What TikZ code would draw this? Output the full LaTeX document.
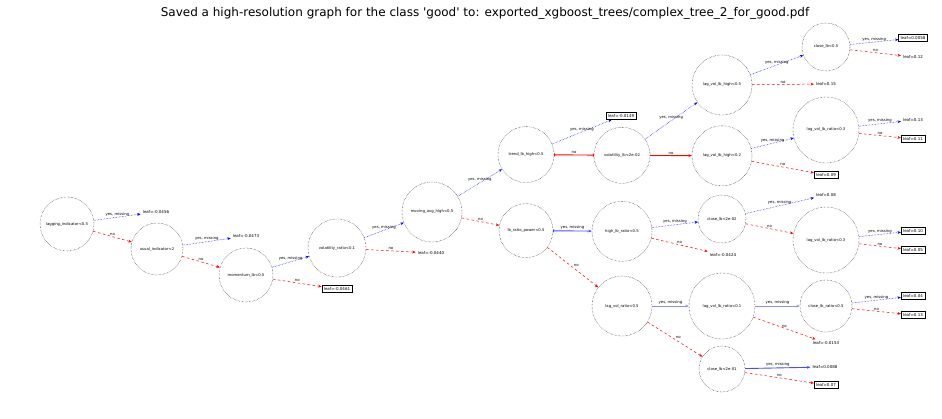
\documentclass[tikz,border=0pt]{standalone}
\usepackage{fontspec}
\newfontfamily\titlefont{DejaVu Sans}
\newfontfamily\treefont{DejaVu Sans}
\usetikzlibrary{arrows.meta}

\begin{document}
\begin{tikzpicture}[x=1pt,y=-1pt,
  split/.style={circle, draw, densely dotted, line width=0.4pt, inner sep=0pt, font=\treefont\fontsize{3.8}{4.5}\selectfont},
  leaf/.style={draw, line width=0.5pt, inner sep=2pt, font=\treefont\fontsize{4}{5}\selectfont},
  leafplain/.style={inner sep=2pt, font=\treefont\fontsize{4}{5}\selectfont},
  yes/.style={-{Stealth[length=3.4pt,width=2.8pt]}, blue, densely dotted, line width=0.5pt},
  no/.style={-{Stealth[length=3.4pt,width=2.8pt]}, red, dash pattern=on 2.5pt off 2.5pt, line width=0.5pt},
  flatno/.style={solid, draw=red, line width=0.9pt},
  flatyes/.style={solid, draw=blue!70, line width=0.9pt},
  lbl/.style={font=\treefont\fontsize{3.8}{4.5}\selectfont, inner sep=0.8pt, text=black}]

\useasboundingbox (0,0) rectangle (942,418);

\node[font=\titlefont\fontsize{12}{14}\selectfont] (title) at (485,13)
  {Saved a high-resolution graph for the class 'good' to: exported\_xgboost\_trees/complex\_tree\_2\_for\_good.pdf};

% split nodes
\node[split, minimum size=54pt] (lag) at (67,224) {lagging\_indicator<0.5};
\node[split, minimum size=52pt] (trend) at (157,249) {usual\_indicator<2};
\node[split, minimum size=54pt] (mom) at (246,275) {momentum\_lb<0.5};
\node[split, minimum size=58pt] (vol) at (337,248) {volatility\_ratio<0.1};
\node[split, minimum size=60pt] (mavg) at (432,212) {moving\_avg\_high<0.5};
\node[split, minimum size=56pt] (tlag) at (526,154.6) {trend\_lb\_high<0.5};
\node[split, minimum size=54pt] (ratio) at (526,230.6) {lb\_ratio\_power<0.5};
\node[split, minimum size=56pt] (vlb) at (622,155.3) {volatility\_lb<2e-02};
\node[split, minimum size=60pt] (lvh) at (722,85) {lag\_vol\_lb\_high<0.5};
\node[split, minimum size=60pt] (lvl) at (722,155.8) {lag\_vol\_lb\_high<0.2};
\node[split, minimum size=60pt] (hlb) at (622,231.3) {high\_lb\_ratio<0.5};
\node[split, minimum size=48pt] (clb) at (722,219) {close\_lb<2e-02};
\node[split, minimum size=60pt] (lvr) at (622,306) {lag\_vol\_ratio<0.5};
\node[split, minimum size=66pt] (lvq) at (722,306) {lag\_vol\_lb\_ratio<0.1};
\node[split, minimum size=46pt] (cls) at (722,369) {close\_lb<2e-01};
\node[split, minimum size=48pt] (chl) at (826,47) {close\_lb<0.5};
\node[split, minimum size=66pt] (lvm) at (826,130) {lag\_vol\_lb\_ratio<0.3};
\node[split, minimum size=66pt] (lvn) at (826,240) {lag\_vol\_lb\_ratio<0.3};
\node[split, minimum size=52pt] (clr) at (826,306) {close\_lb\_ratio<0.5};

% leaves
\node[leafplain] (l1) at (156,212) {leaf=-0.0456};
\node[leafplain] (l2) at (246,236) {leaf=-0.0473};
\node[leaf] (l3) at (337,289) {leaf=-0.0461};
\node[leafplain] (l4) at (431,253) {leaf=-0.0440};
\node[leaf] (l5) at (621,116) {leaf=-0.0149};
\node[leaf] (l6) at (913,38) {leaf=0.0058};
\node[leafplain] (l7) at (913,57) {leaf=0.12};
\node[leafplain] (l8) at (826,84) {leaf=0.15};
\node[leafplain] (l9) at (913,120) {leaf=0.13};
\node[leaf] (l10) at (913,139) {leaf=0.11};
\node[leaf] (l11) at (826,175) {leaf=0.09};
\node[leafplain] (l12) at (826,195) {leaf=0.08};
\node[leafplain] (l13) at (723,255) {leaf=-0.0424};
\node[leaf] (l14) at (913,231) {leaf=0.10};
\node[leaf] (l15) at (913,250) {leaf=0.05};
\node[leaf] (l16) at (913,296) {leaf=0.04};
\node[leaf] (l17) at (913,315) {leaf=0.13};
\node[leafplain] (l18) at (826,343) {leaf=-0.0153};
\node[leafplain] (l19) at (825,367) {leaf=0.0088};
\node[leaf] (l20) at (826,385) {leaf=0.07};

% edges
\draw[yes] (lag) to node[lbl, above] {yes, missing} (l1);
\draw[no] (lag) to node[lbl, above] {no} (trend);
\draw[yes] (trend) to node[lbl, above] {yes, missing} (l2);
\draw[no] (trend) to node[lbl, above] {no} (mom);
\draw[yes] (mom) to node[lbl, above] {yes, missing} (vol);
\draw[no] (mom) to node[lbl, above] {no} (l3);
\draw[yes] (vol) to node[lbl, above] {yes, missing} (mavg);
\draw[no] (vol) to node[lbl, above] {no} (l4);
\draw[yes] (mavg) to node[lbl, above] {yes, missing} (tlag);
\draw[no] (mavg) to node[lbl, above] {no} (ratio);
\draw[yes] (tlag) to node[lbl, above] {yes, missing} (l5);
\draw[no, flatno, {Bar[width=3pt]}-{Bar[width=3pt]}] (tlag) to node[lbl, above] {no} (vlb);
\draw[yes] (vlb) to node[lbl, above] {yes, missing} (lvh);
\draw[no, flatno] (vlb) to node[lbl, above] {no} (lvl);
\draw[yes] (lvh) to node[lbl, above] {yes, missing} (chl);
\draw[no] (lvh) to node[lbl, above] {no} (l8);
\draw[yes] (chl) to node[lbl, above] {yes, missing} (l6);
\draw[no] (chl) to node[lbl, above] {no} (l7);
\draw[yes] (lvl) to node[lbl, above] {yes, missing} (lvm);
\draw[no] (lvl) to node[lbl, above] {no} (l11);
\draw[yes] (lvm) to node[lbl, above] {yes, missing} (l9);
\draw[no] (lvm) to node[lbl, above] {no} (l10);
\draw[yes, flatyes, {Bar[width=3pt]}-{Stealth[length=3.4pt,width=2.8pt]}] (ratio) to node[lbl, above] {yes, missing} (hlb);
\draw[no] (ratio) to node[lbl, above right] {no} (lvr);
\draw[yes] (hlb) to node[lbl, above] {yes, missing} (clb);
\draw[no] (hlb) to node[lbl, above] {no} (l13);
\draw[yes] (clb) to node[lbl, above] {yes, missing} (l12);
\draw[no] (clb) to node[lbl, above] {no} (lvn);
\draw[yes] (lvn) to node[lbl, above] {yes, missing} (l14);
\draw[no] (lvn) to node[lbl, above] {no} (l15);
\draw[yes, flatyes, draw=blue!45] (lvr) to node[lbl, above] {yes, missing} (lvq);
\draw[no] (lvr) to node[lbl, above right] {no} (cls);
\draw[yes, flatyes, draw=blue!45] (lvq) to node[lbl, above] {yes, missing} (clr);
\draw[no] (lvq) to node[lbl, above] {no} (l18);
\draw[yes] (clr) to node[lbl, above] {yes, missing} (l16);
\draw[no] (clr) to node[lbl, above] {no} (l17);
\draw[yes, flatyes] (cls) to node[lbl, above] {yes, missing} (l19);
\draw[no] (cls) to node[lbl, above] {no} (l20);

\end{tikzpicture}
\end{document}
